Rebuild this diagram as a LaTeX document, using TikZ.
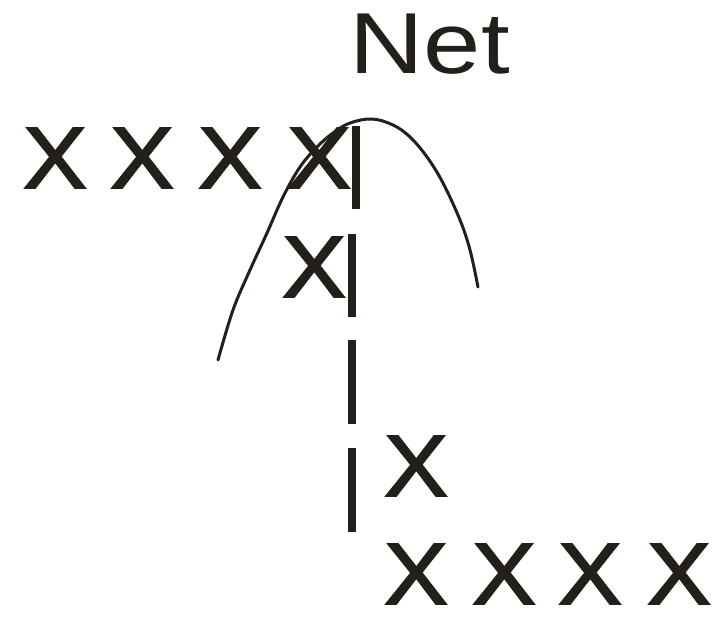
\documentclass[tikz,border=0pt]{standalone}
\usepackage{fontspec}
\setmainfont{Liberation Sans}
\newfontfamily\markfont{Liberation Sans}[FakeBold=2]
\definecolor{inkc}{RGB}{35,31,27}
\tikzset{
  mark X/.style={inner sep=0pt, outer sep=0pt, text=inkc,
    font=\markfont\fontsize{87}{100}\selectfont},
  title/.style={inner sep=0pt, outer sep=0pt, text=inkc, anchor=base,
    font=\fontsize{86.6}{100}\selectfont},
  bar/.style={fill=inkc},
  arc line/.style={draw=inkc, line width=3pt, line cap=round}
}
\newcommand{\wideX}{\scalebox{1.1}[1]{X}}
\begin{document}
\begin{tikzpicture}[x=1pt, y=-1pt]
  \useasboundingbox (0,0) rectangle (720,620);

  % heading
  \node[title] (net) at (429.6,74) {\scalebox{1.19}[1]{Net}};

  % upper row of marks
  \node[mark X] (a1) at (55,158) {\wideX};
  \node[mark X] (a2) at (142,158) {\wideX};
  \node[mark X] (a3) at (230,158) {\wideX};
  \node[mark X] (a4) at (319,158) {\wideX};
  \node[mark X] (b1) at (314,267) {\wideX};

  % lower marks
  \node[mark X] (c1) at (416,466) {\wideX};
  \node[mark X] (d1) at (416,574) {\wideX};
  \node[mark X] (d2) at (504,574) {\wideX};
  \node[mark X] (d3) at (590,574) {\wideX};
  \node[mark X] (d4) at (679,574) {\wideX};

  % dashed divider made of bars
  \fill[bar] (352,126) rectangle (360,209);
  \fill[bar] (348,234) rectangle (356,317);
  \fill[bar] (348,340) rectangle (356,424);
  \fill[bar] (348,448) rectangle (356,532);

  % curve over the divider
  \draw[arc line] plot[smooth, tension=0.6] coordinates {
    (218,360) (233,310) (250,270) (267,233) (283,197) (300,167)
    (317,147) (333,133) (350,123) (372,119) (393,125) (410,137)
    (427,157) (443,183) (460,220) (470,250) (478,287)};
\end{tikzpicture}
\end{document}
